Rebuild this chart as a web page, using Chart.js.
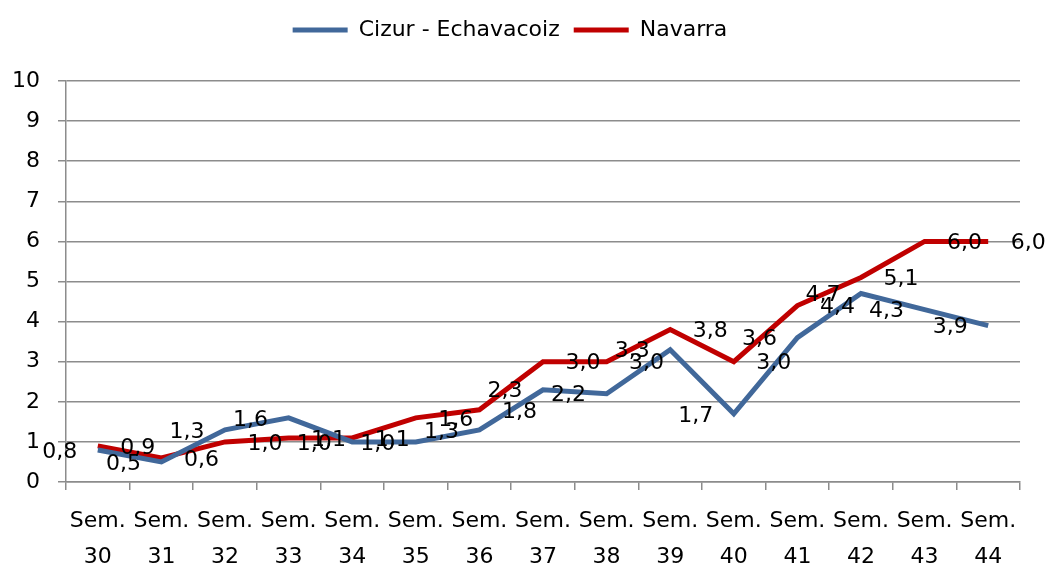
<!DOCTYPE html>
<html>
<head>
<meta charset="utf-8">
<script src="https://cdn.jsdelivr.net/npm/chart.js@4"></script>
<style>
  html, body { margin: 0; padding: 0; background: #fff; }
  #wrap { width: 1045px; height: 567px; }
</style>
</head>
<body>
<div id="wrap"><canvas id="myChart" width="1045" height="567"></canvas></div>
<script>
const weeks = ["30", "31", "32", "33", "34", "35", "36", "37", "38", "39", "40", "41", "42", "43", "44"];
const cizurValues = [0.8, 0.5, 1.3, 1.6, 1.0, 1.0, 1.3, 2.3, 2.2, 3.3, 1.7, 3.6, 4.7, 4.3, 3.9];
const navarraValues = [0.9, 0.6, 1.0, 1.1, 1.1, 1.6, 1.8, 3.0, 3.0, 3.8, 3.0, 4.4, 5.1, 6.0, 6.0];
const yTicks = [0, 1, 2, 3, 4, 5, 6, 7, 8, 9, 10];

const FONT = "'DejaVu Sans', sans-serif";
const FS = 22;
const gridColor = "#8c8c8c";

// value labels: blue ones sit left of the point, red ones right of it
const pointLabels = {
  id: 'pointLabels',
  afterDatasetsDraw(chart) {
    const ctx = chart.ctx;
    ctx.save();
    ctx.font = FS + "px " + FONT;
    ctx.fillStyle = "#000";
    ctx.textAlign = "center";
    ctx.textBaseline = "middle";
    chart.data.datasets.forEach((ds, i) => {
      const meta = chart.getDatasetMeta(i);
      meta.data.forEach((pt, j) => {
        const txt = ds.data[j].toFixed(1).replace('.', ',');
        ctx.fillText(txt, pt.x + ds.labelShift, pt.y + 2);
      });
    });
    ctx.restore();
  }
};

// push the plot area down below the legend
const legendGap = {
  id: 'legendGap',
  beforeInit(chart) {
    const fit = chart.legend.fit;
    chart.legend.fit = function () {
      fit.call(this);
      this.height += 30;
    };
  }
};

new Chart(document.getElementById('myChart'), {
  type: 'line',
  data: {
    labels: weeks.map(w => ["Sem.", w]),
    datasets: [
      {
        label: "Cizur - Echavacoiz",
        data: cizurValues,
        borderColor: "#41689a",
        backgroundColor: "#41689a",
        borderWidth: 5,
        pointRadius: 0,
        tension: 0,
        labelShift: -38
      },
      {
        label: "Navarra",
        data: navarraValues,
        borderColor: "#c00000",
        backgroundColor: "#c00000",
        borderWidth: 5,
        pointRadius: 0,
        tension: 0,
        labelShift: 40
      }
    ]
  },
  options: {
    responsive: false,
    animation: false,
    layout: { padding: { left: 0, right: 25, top: 5, bottom: 0 } },
    plugins: {
      tooltip: { enabled: false },
      legend: {
        labels: {
          boxWidth: 55,
          boxHeight: 5,
          padding: 14,
          color: "#000",
          font: { family: FONT, size: FS },
          generateLabels(chart) {
            return chart.data.datasets.map((ds, i) => ({
              text: ds.label,
              fillStyle: ds.borderColor,
              strokeStyle: ds.borderColor,
              lineWidth: 0,
              datasetIndex: i
            }));
          }
        }
      }
    },
    scales: {
      x: {
        offset: true,
        afterFit(scale) { scale.height = 85; },
        grid: {
          offset: true,
          drawOnChartArea: false,
          drawTicks: true,
          tickLength: 8,
          color: gridColor,
          lineWidth: 1.5
        },
        border: { color: gridColor, width: 1.5 },
        ticks: {
          color: "#000",
          maxRotation: 0,
          autoSkip: false,
          padding: 13,
          font: { family: FONT, size: FS, lineHeight: 1.64 }
        }
      },
      y: {
        min: 0,
        max: 10,
        afterFit(scale) { scale.width = 66; },
        afterBuildTicks(scale) { scale.ticks = yTicks.map(v => ({ value: v })); },
        grid: {
          color: gridColor,
          lineWidth: 1.5,
          tickLength: 8
        },
        border: { color: gridColor, width: 1.5 },
        ticks: {
          color: "#000",
          padding: 18,
          font: { family: FONT, size: FS }
        }
      }
    }
  },
  plugins: [pointLabels, legendGap]
});
</script>
</body>
</html>
